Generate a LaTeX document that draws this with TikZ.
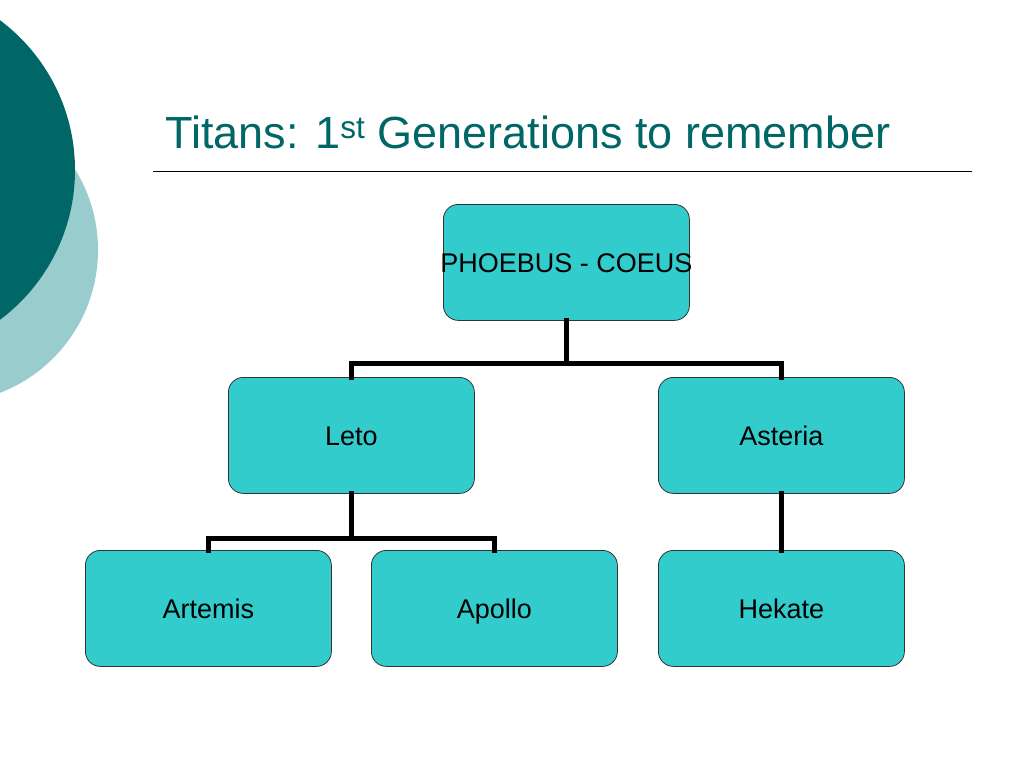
\documentclass[tikz,border=0pt]{standalone}
\usepackage{fontspec}
\setmainfont{Liberation Sans}
\definecolor{darkteal}{RGB}{0,102,102}
\definecolor{lightteal}{RGB}{153,204,204}
\definecolor{boxfill}{RGB}{51,204,204}
\tikzset{
  gbox/.style={draw=black!80, line width=0.8pt, fill=boxfill, rounded corners=15pt,
    minimum width=246pt, minimum height=116pt, inner sep=0pt, font=\fontsize{27}{30}\selectfont,
    text height=19.3pt, text depth=0pt, anchor=north west},
  conn/.style={line width=5pt, line cap=rect}
}
\begin{document}
\begin{tikzpicture}[x=1pt,y=-1pt]
\useasboundingbox (0,0) rectangle (1024,768);
\begin{scope}
\clip (0,0) rectangle (1024,768);
\fill[lightteal] (-55,250) circle (153);
\fill[darkteal] (-112,170) circle (187);
\end{scope}
\node[anchor=base west, text=darkteal, font=\fontsize{45}{50}\selectfont, inner sep=0pt] (title) at (165,148) {Titans: 1\textsuperscript{st} Generations to remember};
\coordinate (l1) at (153,171);
\coordinate (l2) at (972,171);
\draw[line width=1pt] (l1) -- (l2);

\node[gbox] (top) at (443,204) {};
\node[font=\fontsize{27}{30}\selectfont, inner sep=0pt, text height=19.3pt, text depth=0pt] (toplabel) at (top.center) {PHOEBUS - COEUS};
\node[gbox] (leto) at (228,377) {Leto};
\node[gbox] (asteria) at (658,377) {Asteria};
\node[gbox] (artemis) at (85,550) {Artemis};
\node[gbox] (apollo) at (371,550) {Apollo};
\node[gbox] (hekate) at (658,550) {Hekate};

\draw[conn] (top.south) -- ++(0,43) -| (leto.north);
\draw[conn] (top.south) ++(0,43) -| (asteria.north);
\draw[conn] (leto.south) -- ++(0,45) -| ([xshift=-143pt]leto.south |- artemis.north);
\draw[conn] (leto.south) ++(0,45) -| ([xshift=143pt]leto.south |- apollo.north);
\draw[conn] (asteria.south) -- (hekate.north);
\end{tikzpicture}
\end{document}
